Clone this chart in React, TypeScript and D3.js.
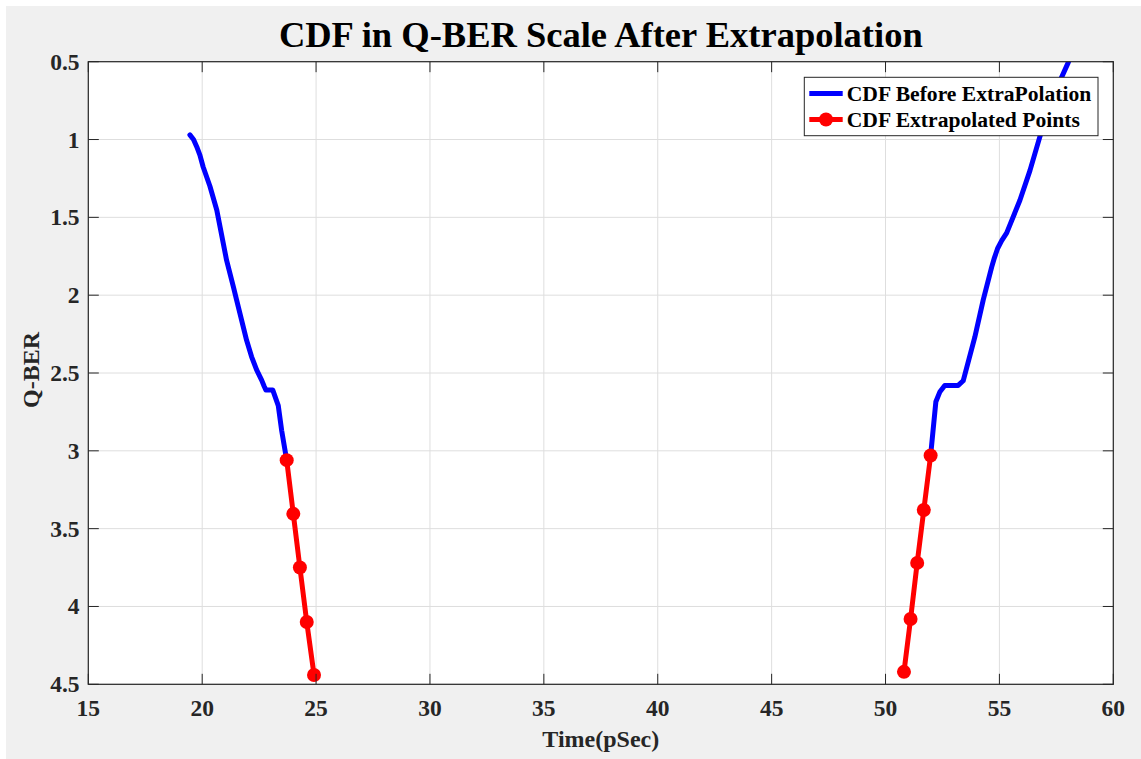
import React from "react";
import * as d3 from "d3";

const xTicks = [15, 20, 25, 30, 35, 40, 45, 50, 55, 60];
const yTicks = [0.5, 1, 1.5, 2, 2.5, 3, 3.5, 4, 4.5];
const yTickLabels = ["0.5", "1", "1.5", "2", "2.5", "3", "3.5", "4", "4.5"];

const leftBeforeX = [19.46, 19.62, 19.76, 19.9, 20.04, 20.34, 20.64, 21.07, 21.37, 21.51, 21.95, 22.17, 22.39, 22.61, 22.72, 22.8, 23.1, 23.34, 23.49, 23.71];
const leftBeforeQ = [0.97, 1.0, 1.046, 1.1, 1.175, 1.3, 1.453, 1.775, 1.946, 2.03, 2.29, 2.396, 2.48, 2.546, 2.585, 2.61, 2.61, 2.71, 2.87, 3.06];
const rightBeforeX = [51.98, 52.21, 52.39, 52.6, 53.19, 53.41, 53.92, 54.29, 54.66, 54.78, 54.92, 55.1, 55.32, 55.9, 56.34, 56.78, 57.36, 58.02, 58.2];
const rightBeforeQ = [3.03, 2.685, 2.62, 2.58, 2.58, 2.55, 2.27, 2.03, 1.82, 1.76, 1.7, 1.65, 1.6, 1.39, 1.2, 0.98, 0.72, 0.506, 0.44];

const leftExtrapX = [23.71, 24.0, 24.29, 24.59, 24.91];
const leftExtrapQ = [3.06, 3.405, 3.75, 4.1, 4.44];
const rightExtrapX = [51.98, 51.68, 51.39, 51.1, 50.81];
const rightExtrapQ = [3.03, 3.38, 3.72, 4.08, 4.42];

const title = "CDF in Q-BER Scale After Extrapolation";
const xLabel = "Time(pSec)";
const yLabel = "Q-BER";
const legendLabels = ["CDF Before ExtraPolation", "CDF Extrapolated Points"];

const W = 1141;
const H = 759;
const L = 88.3, R = 1113.3, T = 61.7, B = 684.3;
const FONT = "'Liberation Serif', 'Times New Roman', serif";
const AX = "#262626";
const GRID = "#dedede";
const TICK = 10.5;

export default function App() {
  const x = d3.scaleLinear().domain([15, 60]).range([L, R]);
  const y = d3.scaleLinear().domain([0.5, 4.5]).range([T, B]);
  const line = d3.line<[number, number]>().x((d) => x(d[0])).y((d) => y(d[1]));
  const zip = (a: number[], b: number[]) => a.map((v, i) => [v, b[i]] as [number, number]);

  const blue = [zip(leftBeforeX, leftBeforeQ), zip(rightBeforeX, rightBeforeQ)];
  const red = [zip(leftExtrapX, leftExtrapQ), zip(rightExtrapX, rightExtrapQ)];

  const legX = 804.3, legY = 77.3, legW = 293.7, legH = 58.4;

  return (
    <svg width={W} height={H} style={{ position: "absolute", left: 0, top: 0, display: "block" }} fontFamily={FONT}>
      <rect x={0} y={0} width={W} height={H} fill="#ffffff" />
      <rect x={6} y={6} width={W - 6} height={H - 6} fill="#f0f0f0" />
      <rect x={L} y={T} width={R - L} height={B - T} fill="#ffffff" />
      <defs>
        <clipPath id="plotclip">
          <rect x={L} y={T} width={R - L} height={B - T} />
        </clipPath>
      </defs>
      {xTicks.map((t) => (
        <line key={"gx" + t} x1={x(t)} x2={x(t)} y1={T} y2={B} stroke={GRID} strokeWidth={1} />
      ))}
      {yTicks.map((t) => (
        <line key={"gy" + t} x1={L} x2={R} y1={y(t)} y2={y(t)} stroke={GRID} strokeWidth={1} />
      ))}
      <g clipPath="url(#plotclip)">
        {blue.map((d, i) => (
          <path key={"b" + i} d={line(d) || ""} fill="none" stroke="#0000ff" strokeWidth={5} strokeLinejoin="round" strokeLinecap="round" />
        ))}
        {red.map((d, i) => (
          <g key={"r" + i}>
            <path d={line(d) || ""} fill="none" stroke="#ff0000" strokeWidth={5} strokeLinejoin="round" />
            {d.map((p, j) => (
              <circle key={j} cx={x(p[0])} cy={y(p[1])} r={7} fill="#ff0000" />
            ))}
          </g>
        ))}
      </g>
      {xTicks.map((t) => (
        <g key={"tx" + t}>
          <line x1={x(t)} x2={x(t)} y1={B} y2={B - TICK} stroke={AX} strokeWidth={1} />
          <line x1={x(t)} x2={x(t)} y1={T} y2={T + TICK} stroke={AX} strokeWidth={1} />
          <text x={x(t)} y={716} textAnchor="middle" fontSize={23.5} fontWeight="bold" fill={AX}>
            {t}
          </text>
        </g>
      ))}
      {yTicks.map((t, i) => (
        <g key={"ty" + t}>
          <line x1={L} x2={L + TICK} y1={y(t)} y2={y(t)} stroke={AX} strokeWidth={1} />
          <line x1={R} x2={R - TICK} y1={y(t)} y2={y(t)} stroke={AX} strokeWidth={1} />
          <text x={79.5} y={y(t) + 8} textAnchor="end" fontSize={23.5} fontWeight="bold" fill={AX}>
            {yTickLabels[i]}
          </text>
        </g>
      ))}
      <rect x={L} y={T} width={R - L} height={B - T} fill="none" stroke={AX} strokeWidth={1.2} />
      <text x={(L + R) / 2} y={46.7} textAnchor="middle" fontSize={36.5} fontWeight="bold" fill="#000">
        {title}
      </text>
      <text x={(L + R) / 2} y={746.7} textAnchor="middle" fontSize={24} fontWeight="bold" fill={AX}>
        {xLabel}
      </text>
      <text transform={`translate(39.3, 370) rotate(-90)`} textAnchor="middle" fontSize={24} fontWeight="bold" fill={AX}>
        {yLabel}
      </text>
      <rect x={legX} y={legY} width={legW} height={legH} fill="#ffffff" stroke={AX} strokeWidth={1} />
      <line x1={809.3} x2={842.7} y1={93.5} y2={93.5} stroke="#0000ff" strokeWidth={5} />
      <line x1={809.3} x2={842.7} y1={119.5} y2={119.5} stroke="#ff0000" strokeWidth={5} />
      <circle cx={826} cy={119.5} r={7} fill="#ff0000" />
      <text x={846.7} y={100.5} fontSize={21.6} fontWeight="bold" fill="#000">
        {legendLabels[0]}
      </text>
      <text x={846.7} y={126.5} fontSize={21.6} fontWeight="bold" fill="#000">
        {legendLabels[1]}
      </text>
    </svg>
  );
}
